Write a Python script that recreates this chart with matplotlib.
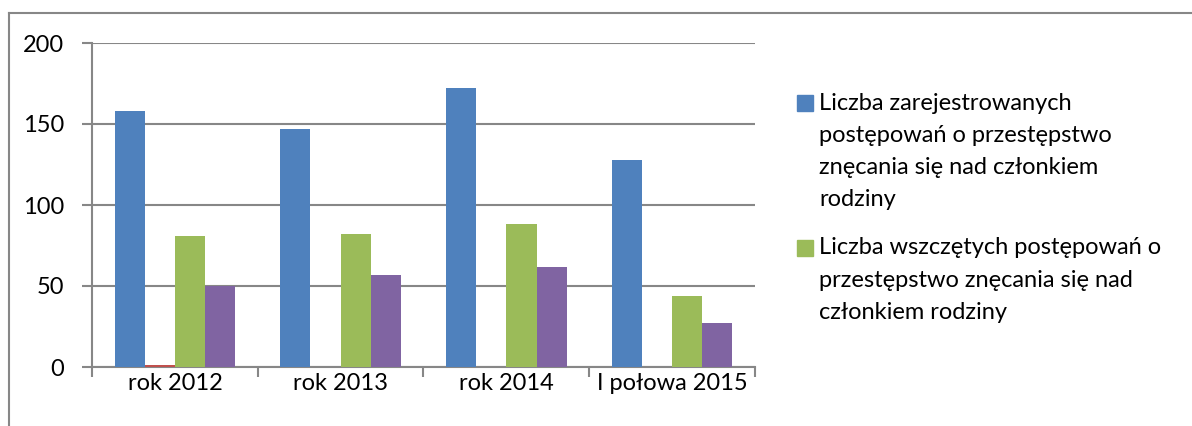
import matplotlib.pyplot as plt
import matplotlib.patches as mpatches
import numpy as np
from matplotlib.lines import Line2D

plt.rcParams['font.family'] = ['Lato', 'DejaVu Sans']

categories = ['rok 2012', 'rok 2013', 'rok 2014', 'I połowa 2015']
registered = [158, 147, 172, 128]
second = [1, 0, 0, 0]
initiated = [81, 82, 88, 44]
fourth = [50, 57, 62, 27]

labels = ['Liczba zarejestrowanych\npostępowań o przestępstwo\nznęcania się nad członkiem\nrodziny',
          'Liczba wszczętych postępowań o\nprzestępstwo znęcania się nad\nczłonkiem rodziny']
colors = ['#4F81BD', '#C0504D', '#9BBB59', '#8064A2']
grid_col = '#878787'
W, H = 1192, 426

fig = plt.figure(figsize=(W / 100, H / 100), dpi=100)
ax = fig.add_axes([92 / W, 1 - 367 / H, 663 / W, 324 / H])

x = np.arange(len(categories))
bw = 1 / 5.5
series = [registered, second, initiated, fourth]
for i, (vals, c) in enumerate(zip(series, colors)):
    ax.bar(x + (i - 1.5) * bw, vals, bw, color=c, zorder=3)

ax.set_xlim(-0.5, len(categories) - 0.5)
ax.set_ylim(0, 200)
ax.set_yticks([0, 50, 100, 150, 200])
ax.set_xticks(np.arange(-0.5, len(categories)))
ax.set_xticklabels([''] * (len(categories) + 1))
ax.set_xticks(x, categories, minor=True)
ax.tick_params(axis='x', which='minor', length=0, pad=4, labelsize=17)
ax.tick_params(axis='x', which='major', length=7, width=1.5, color=grid_col)
ax.tick_params(axis='y', length=7, width=1.5, color=grid_col, pad=13, labelsize=17)
ax.grid(axis='y', color=grid_col, linewidth=1.5, zorder=0)
for s in ['top', 'right']:
    ax.spines[s].set_visible(False)
for s in ['left', 'bottom']:
    ax.spines[s].set_color(grid_col)
    ax.spines[s].set_linewidth(1.5)

# legend: square aligned with the first line of each label
entry_top = [103, 248]
line_step = 32.3
for lab, c, y0 in zip(labels, [colors[0], colors[2]], entry_top):
    fig.add_artist(mpatches.Rectangle((797 / W, 1 - (y0 + 8) / H), 16 / W, 16 / H,
                                      transform=fig.transFigure, color=c))
    for k, line in enumerate(lab.split('\n')):
        fig.text(819 / W, 1 - (y0 + k * line_step) / H, line, fontsize=17,
                 ha='left', va='center')

# outer chart border
fig.add_artist(Line2D([9 / W, 9 / W], [0, 1 - 13 / H], color=grid_col, lw=1.5))
fig.add_artist(Line2D([9 / W, 1], [1 - 13 / H, 1 - 13 / H], color=grid_col, lw=1.5))

fig.savefig('out.png', dpi=100)
